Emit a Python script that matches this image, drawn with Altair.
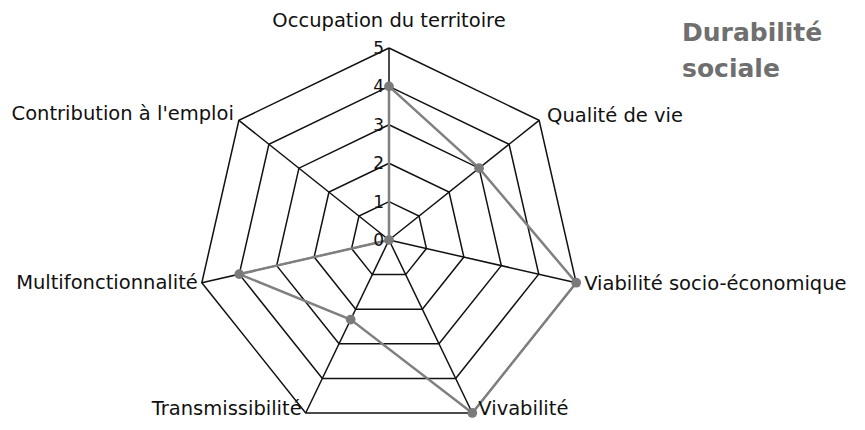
import altair as alt
import pandas as pd

# ---- data ----
axes_labels = [
    "Occupation du territoire",
    "Qualité de vie",
    "Viabilité socio-économique",
    "Vivabilité",
    "Transmissibilité",
    "Multifonctionnalité",
    "Contribution à l'emploi",
]
values = [4, 3, 5, 5, 2.3, 4, 0]
rings = [1, 2, 3, 4, 5]
tick_values = [0, 1, 2, 3, 4, 5]
tick_labels = ["0", "1", "2", "3", "4", "5"]
title_lines = ["Durabilité", "sociale"]

n = len(axes_labels)
max_r = max(rings)

# ---- layout ----
PX = 38.4            # pixels per unit
W, H = 849, 414
CX, CY = 381, 232    # centre in plot pixels
xs = alt.Scale(domain=[-CX / PX, (W - CX) / PX], nice=False, zero=False)
ys = alt.Scale(domain=[-(H - CY) / PX, CY / PX], nice=False, zero=False)

FONT = "DejaVu Sans"
FS = 19.5

grid_df = pd.DataFrame([{"r": r, "k": k} for r in rings for k in range(n + 1)])
spoke_df = pd.DataFrame({"k": list(range(n)), "r": [max_r] * n})
series_df = pd.DataFrame({"k": list(range(n)) + [0], "r": values + [values[0]], "ord": list(range(n + 1))})
points_df = pd.DataFrame({"k": list(range(n)), "r": values})
label_df = pd.DataFrame({"k": list(range(n)), "label": axes_labels, "r": [max_r] * n})
tick_df = pd.DataFrame({"r": tick_values, "label": tick_labels, "k": [0] * len(tick_values)})


def polar(ch):
    return (ch.transform_calculate(theta=f"datum.k * 2 * PI / {n}")
              .transform_calculate(px="datum.r * sin(datum.theta)",
                                   py="datum.r * cos(datum.theta)",
                                   zx="0", zy="0"))


X = alt.X("px:Q", scale=xs, axis=None)
Y = alt.Y("py:Q", scale=ys, axis=None)

grid = polar(alt.Chart(grid_df)).mark_line(color="#111111", strokeWidth=1.5).encode(
    x=X, y=Y, detail="r:N", order="k:Q")

spokes = polar(alt.Chart(spoke_df)).mark_rule(color="#111111", strokeWidth=1.5).encode(
    x=alt.X("zx:Q", scale=xs, axis=None), y=alt.Y("zy:Q", scale=ys, axis=None),
    x2="px:Q", y2="py:Q")

series = polar(alt.Chart(series_df)).mark_line(color="#808080", strokeWidth=2.5).encode(
    x=X, y=Y, order="ord:Q")

points = polar(alt.Chart(points_df)).mark_circle(color="#7a7a7a", size=95, opacity=1).encode(
    x=X, y=Y)


def label_layer(ks, align, baseline, dx, dy):
    return polar(alt.Chart(label_df)).transform_filter(
        alt.FieldOneOfPredicate(field="k", oneOf=ks)
    ).mark_text(align=align, baseline=baseline, dx=dx, dy=dy, font=FONT,
                fontSize=FS, color="#111111").encode(x=X, y=Y, text="label:N")


labels = [
    label_layer([0], "center", "alphabetic", 0, -21),
    label_layer([1], "left", "alphabetic", 8, 2),
    label_layer([6], "right", "alphabetic", -5, 0),
    label_layer([2], "left", "middle", 8, 1),
    label_layer([3], "left", "middle", 6, -4),
    label_layer([4], "right", "middle", -4, -4),
    label_layer([5], "right", "middle", -4, 0),
]

ticks = polar(alt.Chart(tick_df)).mark_text(
    align="right", baseline="middle", dx=-5, dy=1, font=FONT, fontSize=17, color="#111111"
).encode(x=X, y=Y, text="label:N")

title = alt.Chart(pd.DataFrame({"t": [0]})).mark_text(
    align="left", baseline="alphabetic", font=FONT, fontSize=25, fontWeight="bold",
    color="#6f6f6f", lineHeight=36
).encode(x=alt.value(674), y=alt.value(33), text=alt.value(title_lines))

chart = alt.layer(grid, spokes, series, points, *labels, ticks, title).properties(
    width=W, height=H, padding=0, autosize=alt.AutoSizeParams(type="none")
).configure_view(stroke=None)

chart.save("out.html", embed_options={"renderer": "svg", "actions": False})
